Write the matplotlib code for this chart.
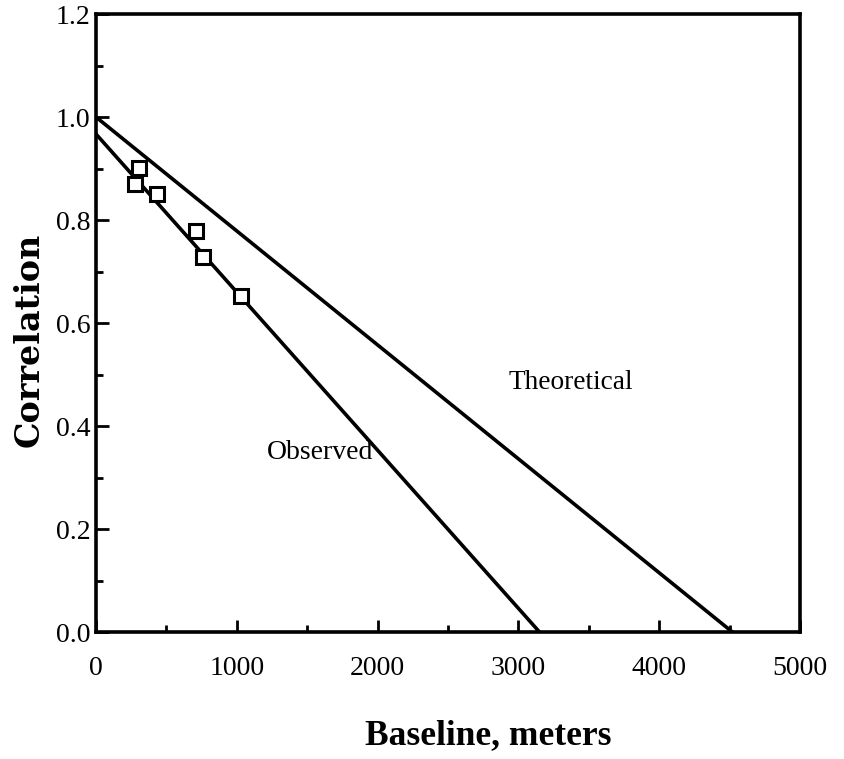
import matplotlib.pyplot as plt
import numpy as np
from matplotlib.ticker import MultipleLocator

# observed correlation points
baseline_obs = [305, 274, 430, 708, 762, 1027]
corr_obs = [0.902, 0.870, 0.850, 0.779, 0.729, 0.652]

# fitted / theoretical lines (end points)
observed_x = [0, 3150]
observed_y = [0.967, 0.0]
theory_x = [0, 4520]
theory_y = [1.0, 0.0]

plt.rcParams['font.family'] = ['Liberation Serif', 'DejaVu Serif']

fig = plt.figure(figsize=(8.45, 7.59), dpi=100)
ax = fig.add_axes([0.1136, 0.1673, 0.8331, 0.8142])

ax.plot(theory_x, theory_y, color='black', lw=2.6)
ax.plot(observed_x, observed_y, color='black', lw=2.6)
ax.plot(baseline_obs, corr_obs, ls='none', marker='s', ms=10, mfc='white',
        mec='black', mew=2.2)

ax.text(3370, 0.485, 'Theoretical', fontsize=19.7, ha='center', va='center')
ax.text(1594, 0.348, 'Observed', fontsize=20, ha='center', va='center')

ax.set_xlim(0, 5000)
ax.set_ylim(0, 1.2)
ax.xaxis.set_major_locator(MultipleLocator(1000))
ax.xaxis.set_minor_locator(MultipleLocator(500))
ax.yaxis.set_major_locator(MultipleLocator(0.2))
ax.yaxis.set_minor_locator(MultipleLocator(0.1))
ax.yaxis.set_major_formatter(plt.FormatStrFormatter('%.1f'))
ax.tick_params(which='both', direction='in', top=False, right=False,
               width=2, labelsize=20)
ax.tick_params(which='major', length=9)
ax.tick_params(which='minor', length=5)
ax.tick_params(axis='x', pad=17)
ax.tick_params(axis='y', pad=4)
for s in ax.spines.values():
    s.set_linewidth(2.6)

ax.set_xlabel('Baseline, meters', fontsize=25.5, fontweight='bold')
ax.xaxis.set_label_coords(0.557, -0.141)
ax.set_ylabel('Correlation', fontsize=24, fontweight='bold',
              family='DejaVu Serif')
ax.yaxis.set_label_coords(-0.072, 0.472)

fig.savefig('out.png', dpi=100)
